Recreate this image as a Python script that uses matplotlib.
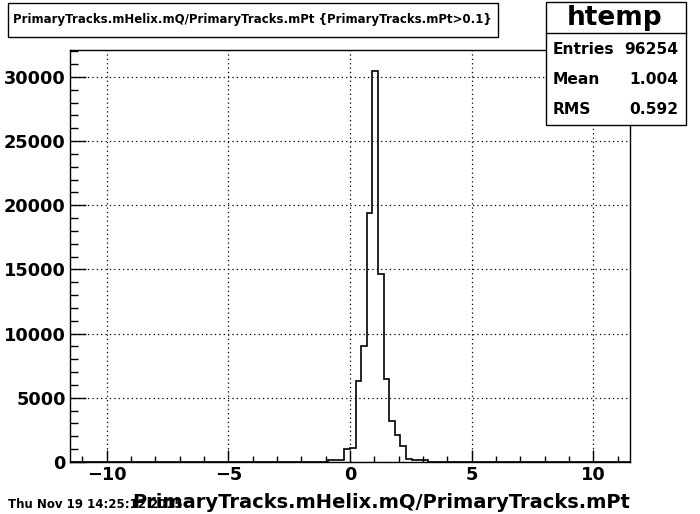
import numpy as np
import matplotlib
matplotlib.use("Agg")
import matplotlib.pyplot as plt
from matplotlib.ticker import MultipleLocator

# ---- data ----
x_min, x_max, n_bins = -11.5, 11.5, 100
counts = [0, 0, 0, 0, 0, 0,
          1, 1, 1, 1, 1, 1, 1, 1, 1, 1, 1, 1, 1, 1, 1, 1, 1, 1, 1, 1,
          1, 1, 1, 1, 1, 1, 1, 1, 1, 1, 1, 1, 1, 1, 1, 1, 1, 1, 1, 1,
          180, 180, 180, 1036, 1090, 6347, 9067, 19378, 30440, 14637,
          6477, 3187, 2130, 1216, 234, 130, 130, 130,
          1, 1, 1, 1, 1, 1, 1, 1, 1, 1, 1, 1, 1, 1, 1, 1, 1, 1, 1, 1,
          1, 1, 1, 1, 1, 1, 1, 1, 1, 1,
          0, 0, 0, 0, 0, 0]
x_ticks = [-10, -5, 0, 5, 10]
y_ticks = [0, 5000, 10000, 15000, 20000, 25000, 30000]
title_text = "PrimaryTracks.mHelix.mQ/PrimaryTracks.mPt {PrimaryTracks.mPt>0.1}"
x_label = "PrimaryTracks.mHelix.mQ/PrimaryTracks.mPt"
stats_name = "htemp"
stats_labels = ["Entries", "Mean", "RMS"]
stats_values = ["96254", "1.004", "0.592"]
date_text = "Thu Nov 19 14:25:12 2015"

W, H = 700, 514
fig = plt.figure(figsize=(W / 100, H / 100), dpi=100)
fig.patch.set_facecolor("white")

def fx(px):
    return px / W

def fy(py):
    return 1 - py / H

L, R, T, B = 70, 630, 50, 462
ax = fig.add_axes([fx(L), fy(B), fx(R - L), (B - T) / H])

edges = np.linspace(x_min, x_max, n_bins + 1)
ax.stairs(counts, edges, color="black", linewidth=1.2)

ax.set_xlim(x_min, x_max)
ax.set_ylim(0, 32100)
ax.set_xticks(x_ticks)
ax.set_yticks(y_ticks)
ax.xaxis.set_minor_locator(MultipleLocator(1))
ax.yaxis.set_minor_locator(MultipleLocator(1000))
ax.set_xticklabels(["\u221210", "\u22125", "0", "5", "10"])
ax.tick_params(axis="both", which="both", direction="in", top=False, right=False,
               width=1, colors="black")
ax.tick_params(axis="y", which="major", length=11.5, pad=3, labelsize=12.8)
ax.tick_params(axis="y", which="minor", length=5.8)
ax.tick_params(axis="x", which="major", length=8.6, pad=3, labelsize=12.8)
ax.tick_params(axis="x", which="minor", length=4.3)
for lab in ax.get_xticklabels() + ax.get_yticklabels():
    lab.set_fontweight("bold")
    lab.set_family("DejaVu Sans")
for s in ax.spines.values():
    s.set_linewidth(1)
    s.set_color("black")

ax.grid(True, which="major", color="black", linestyle=(0, (1, 2.5)), linewidth=0.9)

# x label, right aligned at frame right
fig.text(fx(R), fy(503), x_label, ha="right", va="center",
         fontsize=14, fontweight="bold", family="DejaVu Sans")

# date
fig.text(fx(8), fy(504), date_text, ha="left", va="center",
         fontsize=8.5, fontweight="bold", family="DejaVu Sans")

# title box
tb = plt.Rectangle((fx(8), fy(37)), fx(498 - 8), (37 - 3) / H,
                   transform=fig.transFigure, fill=True, facecolor="white",
                   edgecolor="black", linewidth=1)
fig.add_artist(tb)
fig.text(fx(252), fy(20), title_text, ha="center", va="center",
         fontsize=8.5, fontweight="bold", family="DejaVu Sans")

# stats box
SL, SR = 546, 686
sb = plt.Rectangle((fx(SL), fy(125)), fx(SR - SL), (125 - 2) / H,
                   transform=fig.transFigure, fill=True, facecolor="white",
                   edgecolor="black", linewidth=1)
fig.add_artist(sb)
fig.add_artist(plt.Line2D([fx(SL), fx(SR)], [fy(33), fy(33)],
                          transform=fig.transFigure, color="black", linewidth=1))
fig.text(fx(615), fy(18), stats_name, ha="center", va="center",
         fontsize=19, fontweight="bold", family="DejaVu Sans")
rows_y = [49, 80, 110]
for lab, val, yy in zip(stats_labels, stats_values, rows_y):
    fig.text(fx(553), fy(yy), lab, ha="left", va="center",
             fontsize=11.2, fontweight="bold", family="DejaVu Sans")
    fig.text(fx(678), fy(yy), val, ha="right", va="center",
             fontsize=11.2, fontweight="bold", family="DejaVu Sans")

fig.savefig("out.png", dpi=100)
